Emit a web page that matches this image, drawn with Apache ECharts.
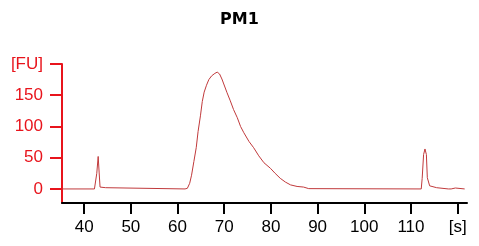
<!DOCTYPE html>
<html><head><meta charset="utf-8">
<script src="https://cdn.jsdelivr.net/npm/echarts@6/dist/echarts.min.js"></script>
<style>html,body{margin:0;padding:0;background:#fff}#c{width:479px;height:246px}</style>
</head><body><div id="c"></div>
<script>
var times = [35.3,42.2,42.4,42.7,42.9,43.0,43.2,43.4,44.6,44.8,61.6,62.1,62.6,63.0,63.5,64.0,64.4,64.9,65.3,65.7,66.2,66.7,67.3,68.0,68.5,69.0,69.5,69.9,70.6,71.3,72.0,72.8,73.5,74.2,75.3,76.3,77.4,78.5,79.9,80.9,82.0,83.1,84.2,85.6,87.0,88.1,112.2,112.4,112.7,113.0,113.3,113.5,114.0,114.4,115.5,115.7,118.0,118.3,118.6,119.5,119.7,121.5];
var values = [0,0,3,25,27,52,27,3,2,0,0,1,9,22,44,66,92,117,140,155,166,175,181,185,187,184,176,168,154,141,127,114,100,90,76,66,53,42,33,25,17,11,6.5,4,3,0.5,0,17,55,64,55,18,5,2,2,0,0,1.5,0,1.5,0,0];
var xTicks = [40,50,60,70,80,90,100,110,120];
var xTickLabels = ['40','50','60','70','80','90','100','110','[s]'];
var yTicks = [0,50,100,150,200];
var yTickLabels = ['0','50','100','150','[FU]'];
var title = 'PM1';

var chart = echarts.init(document.getElementById('c'), null, {renderer:'canvas'});
var data = times.map(function(t,i){return [t, values[i]];});
chart.setOption({
  animation:false,
  title:{text:title,left:'center',top:7,textStyle:{fontFamily:'DejaVu Sans',fontSize:16,fontWeight:'bold',color:'#000'}},
  grid:{left:62,right:12,top:64,bottom:43,containLabel:false},
  xAxis:{type:'value',min:35.25,max:122,
    axisLine:{show:true,onZero:false,lineStyle:{color:'#000',width:2}},
    axisTick:{show:true,length:11,lineStyle:{color:'#000',width:2},customValues:xTicks},
    axisLabel:{margin:16,fontFamily:'Liberation Sans',fontSize:17,color:'#000',customValues:xTicks,
      formatter:function(v){var i=xTicks.indexOf(v);return i>=0?xTickLabels[i]:'';}},
    splitLine:{show:false}},
  yAxis:{type:'value',min:-22.5,max:200,
    axisLine:{show:true,onZero:false,lineStyle:{color:'#e8141c',width:2}},
    axisTick:{show:true,length:12,lineStyle:{color:'#e8141c',width:2},customValues:yTicks},
    axisLabel:{margin:19,fontFamily:'Liberation Sans',fontSize:17,color:'#e8141c',customValues:yTicks,
      formatter:function(v){var i=yTicks.indexOf(v);return i>=0?yTickLabels[i]:'';}},
    splitLine:{show:false}},
  series:[{type:'line',data:data,symbol:'none',lineStyle:{color:'#c0393b',width:1}}]
});
</script></body></html>
